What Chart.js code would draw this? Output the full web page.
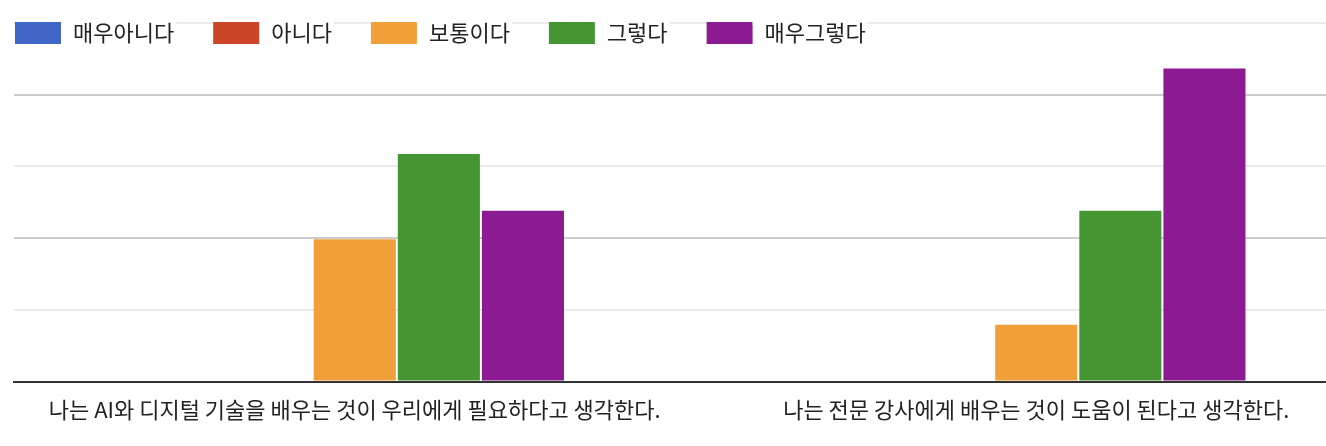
<!DOCTYPE html>
<html>
<head>
<meta charset="utf-8">
<script src="https://cdn.jsdelivr.net/npm/chart.js@4.4.1/dist/chart.umd.min.js"></script>
<style>
  body { margin: 0; background: #fff; overflow: hidden; }
  #wrap { width: 1326px; height: 446px; overflow: hidden; }
</style>
</head>
<body>
<div id="wrap"><canvas id="surveyChart" width="1377" height="446"></canvas></div>
<script>
var categories = ['나는 AI와 디지털 기술을 배우는 것이 우리에게 필요하다고 생각한다.', '나는 전문 강사에게 배우는 것이 도움이 된다고 생각한다.'];
var seriesNames = ['매우아니다', '아니다', '보통이다', '그렇다', '매우그렇다'];
var veryDisagree = [0, 0];
var disagree = [0, 0];
var neutral = [5, 2];
var agree = [8, 6];
var veryAgree = [6, 11];
var colors = ['#4066c8', '#cc4527', '#f19f38', '#469533', '#8b1a93'];

var fontFamily = '"Noto Sans CJK KR", "Noto Sans", sans-serif';

// legend drawn by hand so the item spacing matches the picture
var topLegend = {
  id: 'topLegend',
  afterDraw: function(chart) {
    var ctx = chart.ctx;
    var x = 15;
    ctx.save();
    ctx.font = '22px ' + fontFamily;
    ctx.textBaseline = 'middle';
    chart.data.datasets.forEach(function(ds) {
      ctx.fillStyle = ds.backgroundColor;
      ctx.fillRect(x, 22, 46, 22);
      var w = ctx.measureText(ds.label).width;
      ctx.fillStyle = '#fff';
      ctx.fillRect(x + 46, 21, w + 14, 4);
      ctx.fillStyle = '#222';
      ctx.fillText(ds.label, x + 58, 33);
      x += 58 + w + 39;
    });
    ctx.restore();
  }
};

var data = [veryDisagree, disagree, neutral, agree, veryAgree];

var barChart = new Chart(document.getElementById('surveyChart'), {
  type: 'bar',
  data: {
    labels: categories,
    datasets: seriesNames.map(function(name, i) {
      return {
        label: name,
        data: data[i],
        backgroundColor: colors[i],
        borderWidth: 0,
        categoryPercentage: 0.617,
        barPercentage: 0.976
      };
    })
  },
  options: {
    responsive: false,
    animation: false,
    layout: {
      padding: { left: 14, right: 0, top: 23, bottom: 16 }
    },
    plugins: {
      legend: { display: false },
      tooltip: { enabled: false }
    },
    scales: {
      x: {
        z: 1,
        grid: { display: false },
        border: { color: '#333', width: 2 },
        ticks: {
          color: '#222',
          padding: 7,
          maxRotation: 0,
          font: { family: fontFamily, size: 22 }
        }
      },
      y: {
        display: true,
        min: 0,
        max: 12.6,
        border: { display: false },
        ticks: { display: false, stepSize: 2.52 },
        afterFit: function(scale) { scale.width = 0; },
        grid: {
          drawTicks: false,
          lineWidth: 2,
          color: function(c) {
            if (c.index === 0) return 'rgba(0,0,0,0)';
            return c.index % 2 === 0 ? '#cccccc' : '#ebebeb';
          }
        }
      }
    }
  },
  plugins: [topLegend]
});
</script>
</body>
</html>
